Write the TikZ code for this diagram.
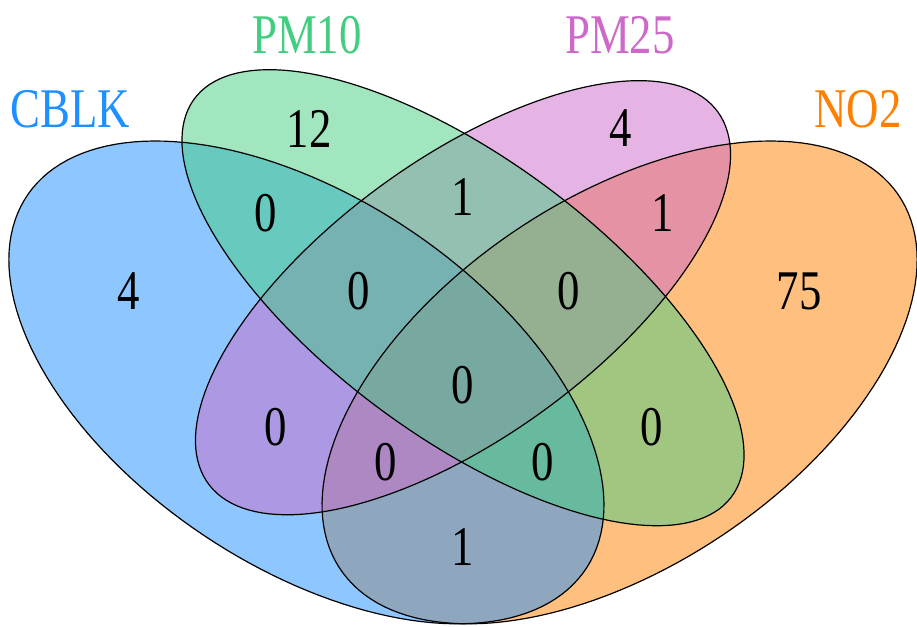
\documentclass[tikz,border=0pt]{standalone}
\usepackage{fontspec}
\setmainfont{Liberation Serif}
\usepackage{tikz}

\definecolor{dodgerblue}{RGB}{30,144,255}
\definecolor{seagreen3}{RGB}{67,205,128}
\definecolor{orchid3}{RGB}{205,105,201}
\definecolor{darkorange1}{RGB}{255,127,0}

% narrow text as in the R output
\newcommand{\narrow}[1]{\scalebox{0.8}[1]{#1}}

\begin{document}
\begin{tikzpicture}[x=0.75pt,y=0.75pt,yscale=-1,xscale=1,
  setname/.style={font=\fontsize{42}{42}\selectfont, inner sep=0.75pt},
  count/.style={font=\fontsize{42}{42}\selectfont, inner sep=0.75pt}]
\useasboundingbox (0,0) rectangle (917,626);

% Ellipse fills (NO2, CBLK, PM25, PM10), half transparent
\foreach \cx/\cy/\rx/\ry/\rot/\col in {0.65/0.47/0.35/0.20/45/darkorange1,
                                      0.35/0.47/0.35/0.20/135/dodgerblue,
                                      0.50/0.57/0.33/0.15/45/orchid3,
                                      0.50/0.57/0.35/0.15/135/seagreen3}
  \fill[fill=\col, fill opacity=0.5] plot[domain=0:360, samples=160, variable=\t]
    ({-59+1044*(\cx+\rx*cos(\t)*cos(\rot)-\ry*sin(\t)*sin(\rot))},
     {780.5-847*(\cy+\rx*cos(\t)*sin(\rot)+\ry*sin(\t)*cos(\rot))}) -- cycle;

% Ellipse outlines
\foreach \cx/\cy/\rx/\ry/\rot in {0.65/0.47/0.35/0.20/45, 0.35/0.47/0.35/0.20/135,
                                 0.50/0.57/0.33/0.15/45, 0.50/0.57/0.35/0.15/135}
  \draw[line width=0.9pt] plot[domain=0:360, samples=160, variable=\t]
    ({-59+1044*(\cx+\rx*cos(\t)*cos(\rot)-\ry*sin(\t)*sin(\rot))},
     {780.5-847*(\cy+\rx*cos(\t)*sin(\rot)+\ry*sin(\t)*cos(\rot))}) -- cycle;

% Set names
\node[setname, text=dodgerblue] (cblk) at (70,109) {\narrow{CBLK}};
\node[setname, text=seagreen3] (pm10) at (307,35) {\narrow{PM10}};
\node[setname, text=orchid3] (pm25) at (620,35) {\narrow{PM25}};
\node[setname, text=darkorange1] (no2) at (858,109) {\narrow{NO2}};

% Region counts
\node[count] (cblkonly) at (129,291) {\narrow{4}};
\node[count] (pm10only) at (309,129) {\narrow{12}};
\node[count] (pm25only) at (621,128) {\narrow{4}};
\node[count] (no2only) at (799,291) {\narrow{75}};
\node[count] (cblkpm10) at (266,213) {\narrow{0}};
\node[count] (pm10pm25) at (463,197) {\narrow{1}};
\node[count] (pm25no2) at (663,213) {\narrow{1}};
\node[count] (cblkpm10pm25) at (359,291) {\narrow{0}};
\node[count] (pm10pm25no2) at (569,291) {\narrow{0}};
\node[count] (allfour) at (463,385) {\narrow{0}};
\node[count] (cblkpm25) at (276,427) {\narrow{0}};
\node[count] (pm10no2) at (652,427) {\narrow{0}};
\node[count] (cblkpm25no2) at (386,462) {\narrow{0}};
\node[count] (cblkpm10no2) at (543,462) {\narrow{0}};
\node[count] (cblkno2) at (463,547) {\narrow{1}};

\end{tikzpicture}
\end{document}
